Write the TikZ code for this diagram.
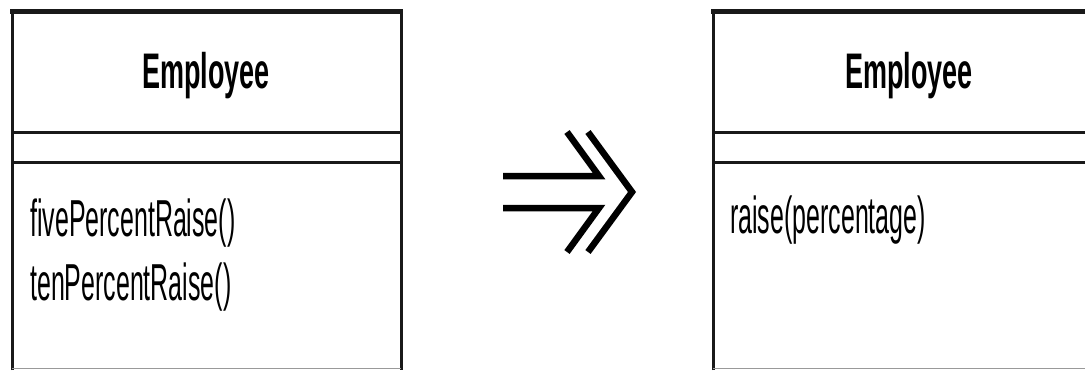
\documentclass[tikz,border=0pt]{standalone}
\usepackage{fontspec}
\setmainfont{Liberation Sans}
\newfontfamily\namefont[FakeStretch=0.54]{Liberation Sans}
\newfontfamily\methfont[FakeStretch=0.48]{Liberation Sans}
\usepackage{tikz}
\usetikzlibrary{positioning}

\begin{document}
\begin{tikzpicture}[x=1pt, y=-1pt,
    classname/.style={font=\namefont\fontsize{50}{50}\selectfont\bfseries, anchor=base, inner sep=0pt},
    method/.style={font=\methfont\fontsize{52}{52}\selectfont, anchor=base west, inner sep=0pt},
    border/.style={line width=3pt, color=black!90}]
    \useasboundingbox (0,0) rectangle (1085,370);

    % Classe prima
    \draw[border] (12,370) -- (12,11) -- (401,11) -- (401,370);
    \draw[border, line width=5pt] (10,11) -- (403,11);
    \draw[border] (12,132) -- (401,132);
    \draw[border] (12,162) -- (401,162);
    \draw[black!40, line width=1pt] (12,368.5) -- (401,368.5);
    \node[classname] (oldname) at (206,88) {Employee};
    \node[method] (five) at (30,236) {fivePercentRaise()};
    \node[method] (ten) at (30,300) {tenPercentRaise()};

    % Freccia
    \draw[line width=6.5pt] (567,132) -- (599,176) -- (503,176);
    \draw[line width=6.5pt] (503,208) -- (599,208) -- (567,252);
    \draw[line width=6.5pt] (588,132) -- (632,192) -- (588,252);

    % Classe dopo
    \draw[border] (713,370) -- (713,11) -- (1085,11);
    \draw[border, line width=5pt] (711,11) -- (1085,11);
    \draw[border] (713,132) -- (1085,132);
    \draw[border] (713,162) -- (1085,162);
    \draw[black!40, line width=1pt] (713,368.5) -- (1085,368.5);
    \node[classname] (newname) at (909,88) {Employee};
    \node[method] (raise) at (730,233) {raise(percentage)};
\end{tikzpicture}
\end{document}
